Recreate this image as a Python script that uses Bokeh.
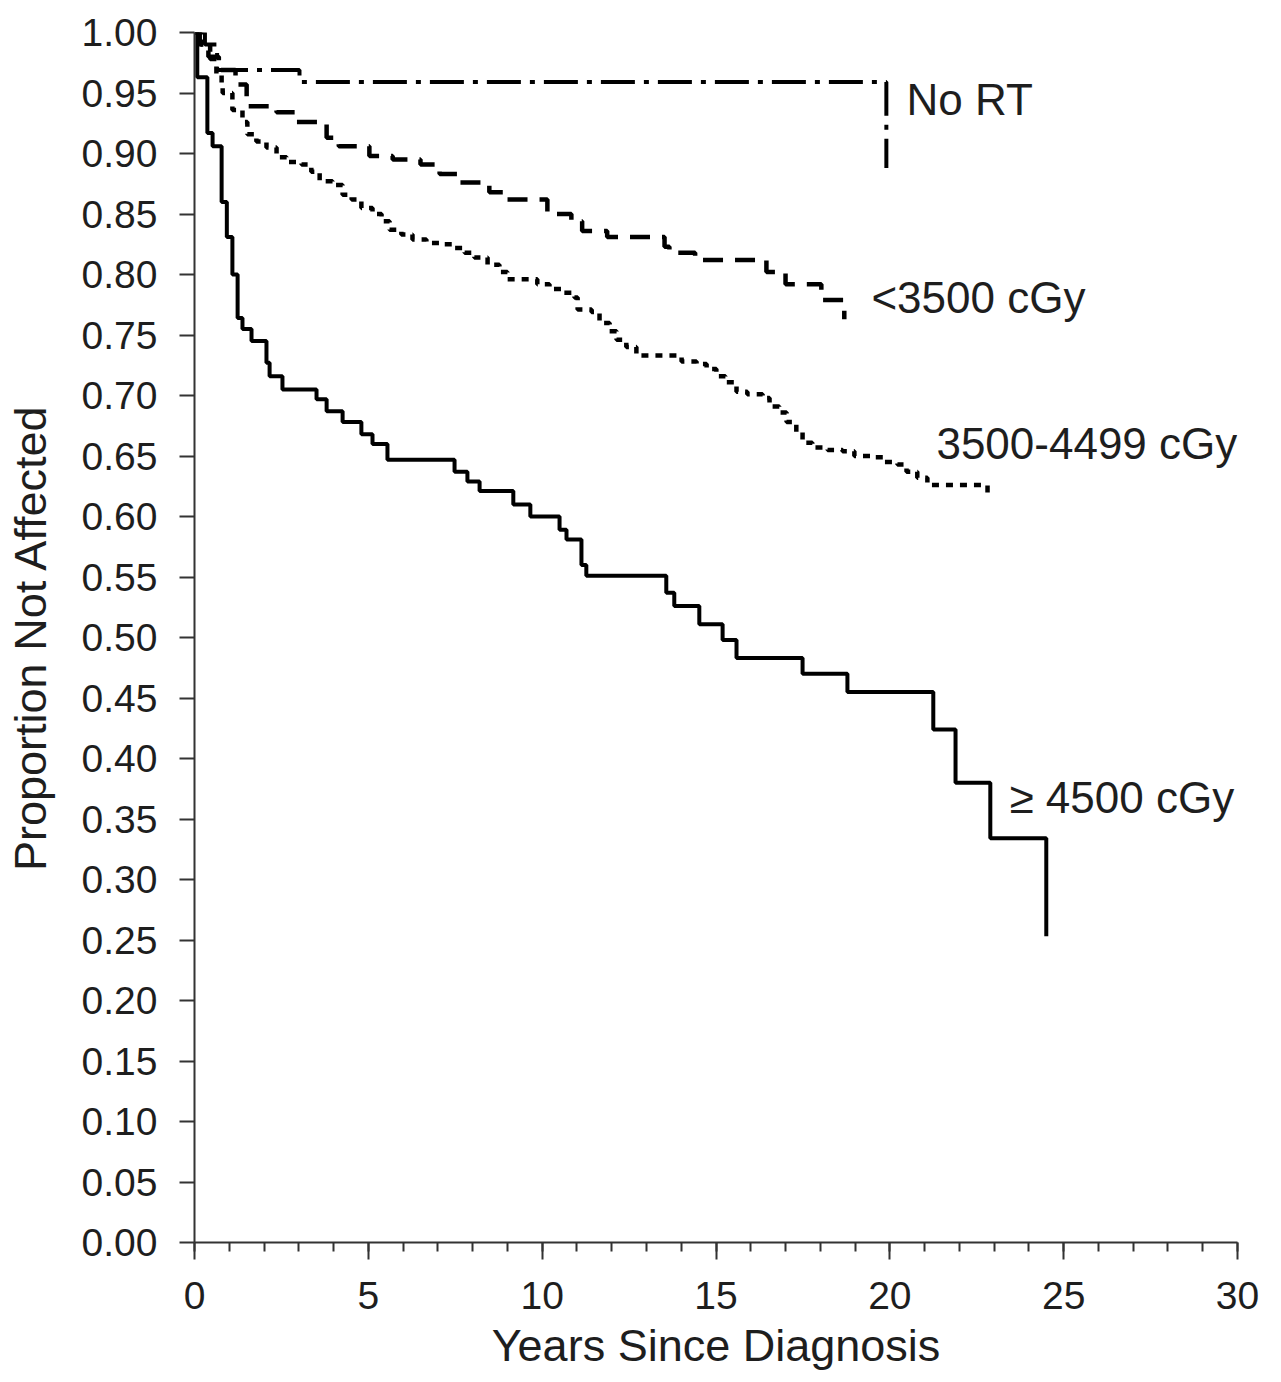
from bokeh.plotting import figure
from bokeh.models import FixedTicker, NumeralTickFormatter, Label, Range1d
from bokeh.embed import file_html
from bokeh.resources import INLINE

# ---------------- data ----------------
x_major_ticks = [0, 5, 10, 15, 20, 25, 30]
x_minor_ticks = [0, 1, 2, 3, 4, 5, 6, 7, 8, 9, 10, 11, 12, 13, 14, 15, 16, 17, 18, 19,
                 20, 21, 22, 23, 24, 25, 26, 27, 28, 29, 30]
y_major_ticks = [0.00, 0.05, 0.10, 0.15, 0.20, 0.25, 0.30, 0.35, 0.40, 0.45, 0.50,
                 0.55, 0.60, 0.65, 0.70, 0.75, 0.80, 0.85, 0.90, 0.95, 1.00]

# No RT (dash-dot)
t_no_rt = [0, 0.3, 0.65, 3.02, 19.90]
s_no_rt = [1.0, 0.99, 0.969, 0.959, 0.888]

# <3500 cGy (dashed)
t_lt3500 = [0, 0.15, 0.4, 0.7, 1.18, 1.50, 2.36, 2.90, 3.80, 4.15, 5.03, 5.70, 6.50, 7.05,
            7.56, 8.48, 8.90, 10.15, 10.84, 11.15, 11.87, 13.52, 13.66, 14.40, 16.45,
            17.00, 18.03, 18.69]
s_lt3500 = [1.0, 0.99, 0.98, 0.969, 0.957, 0.939, 0.934, 0.926, 0.913, 0.906, 0.898, 0.895,
            0.891, 0.883, 0.876, 0.868, 0.862, 0.850, 0.844, 0.836, 0.831, 0.823, 0.818,
            0.812, 0.802, 0.792, 0.779, 0.763]

# 3500-4499 cGy (dotted)
t_mid = [0, 0.2, 0.45, 0.63, 0.78, 0.81, 1.09, 1.38, 1.52, 1.78, 2.07, 2.36, 2.65, 3.08,
         3.36, 3.60, 3.97, 4.26, 4.52, 4.80, 5.12, 5.38, 5.61, 5.95, 6.27, 6.67, 7.13,
         7.48, 7.77, 8.05, 8.43, 8.77, 9.00, 9.86, 10.21, 10.58, 10.93, 11.02, 11.42,
         11.65, 11.94, 12.14, 12.42, 12.71, 14.01, 14.44, 14.73, 15.01, 15.27, 15.59,
         15.90, 16.34, 16.54, 16.82, 17.03, 17.31, 17.49, 17.77, 18.21, 18.64, 18.98,
         19.50, 19.84, 20.22, 20.48, 20.79, 21.08, 22.81]
s_mid = [1.0, 0.99, 0.978, 0.965, 0.955, 0.950, 0.936, 0.926, 0.916, 0.910, 0.905, 0.897,
         0.893, 0.891, 0.885, 0.877, 0.874, 0.866, 0.862, 0.855, 0.850, 0.844, 0.837,
         0.833, 0.829, 0.826, 0.825, 0.822, 0.818, 0.814, 0.808, 0.802, 0.796, 0.792,
         0.788, 0.785, 0.781, 0.771, 0.769, 0.760, 0.753, 0.746, 0.740, 0.733, 0.728,
         0.726, 0.722, 0.716, 0.711, 0.703, 0.701, 0.698, 0.691, 0.686, 0.678, 0.670,
         0.661, 0.657, 0.655, 0.654, 0.650, 0.649, 0.645, 0.643, 0.637, 0.632, 0.626,
         0.618]

# >=4500 cGy (solid)
t_high = [0, 0.08, 0.37, 0.52, 0.78, 0.93, 1.09, 1.24, 1.38, 1.64, 2.07, 2.16, 2.53, 3.51,
          3.80, 4.26, 4.80, 5.12, 5.55, 7.48, 7.85, 8.20, 9.17, 9.66, 10.50, 10.70, 11.13,
          11.27, 13.57, 13.80, 14.52, 15.19, 15.59, 17.49, 18.78, 21.25, 21.89, 22.89, 24.50]
s_high = [1.0, 0.963, 0.917, 0.906, 0.860, 0.831, 0.800, 0.764, 0.755, 0.745, 0.727, 0.716,
          0.705, 0.697, 0.687, 0.678, 0.668, 0.660, 0.647, 0.637, 0.629, 0.621, 0.610,
          0.600, 0.589, 0.581, 0.560, 0.551, 0.537, 0.526, 0.511, 0.498, 0.483, 0.470,
          0.455, 0.424, 0.380, 0.334, 0.253]

group_labels = ["No RT", "<3500 cGy", "3500-4499 cGy", "\u2265 4500 cGy"]

# ---------------- figure ----------------
FONT = "Liberation Sans"
TXT = "#1e1e1e"
AX = "#333333"

p = figure(frame_width=1043, frame_height=1210,
           x_range=Range1d(0, 30), y_range=Range1d(0, 1.0),
           min_border_left=194, min_border_right=36, min_border_top=32, min_border_bottom=131,
           output_backend="svg", toolbar_location=None)

p.outline_line_color = None
p.xgrid.visible = False
p.ygrid.visible = False
p.background_fill_color = "white"
p.border_fill_color = "white"

# x axis
xa = p.xaxis[0]
xa.ticker = FixedTicker(ticks=x_major_ticks, minor_ticks=x_minor_ticks)
xa.major_tick_out = 17
xa.major_tick_in = 0
xa.minor_tick_out = 9
xa.minor_tick_in = 0
xa.axis_line_width = 2
xa.major_tick_line_width = 2
xa.minor_tick_line_width = 2
xa.axis_line_color = AX
xa.major_tick_line_color = AX
xa.minor_tick_line_color = AX
xa.major_label_text_font = FONT
xa.major_label_text_font_size = "39px"
xa.major_label_text_color = TXT
xa.major_label_standoff = 22
xa.axis_label = "Years Since Diagnosis"
xa.axis_label_text_font = FONT
xa.axis_label_text_font_size = "45px"
xa.axis_label_text_font_style = "normal"
xa.axis_label_text_color = TXT
xa.axis_label_standoff = 8

# y axis
ya = p.yaxis[0]
ya.ticker = FixedTicker(ticks=y_major_ticks, minor_ticks=[])
ya.formatter = NumeralTickFormatter(format="0.00")
ya.major_tick_out = 15
ya.major_tick_in = 0
ya.axis_line_width = 2
ya.major_tick_line_width = 2
ya.axis_line_color = AX
ya.major_tick_line_color = AX
ya.major_label_text_font = FONT
ya.major_label_text_font_size = "39px"
ya.major_label_text_color = TXT
ya.major_label_standoff = 22
ya.axis_label = "Proportion Not Affected"
ya.axis_label_text_font = FONT
ya.axis_label_text_font_size = "45px"
ya.axis_label_text_font_style = "normal"
ya.axis_label_text_color = TXT
ya.axis_label_standoff = 23

# curves
p.step(t_no_rt, s_no_rt, mode="after", line_color="black", line_width=4,
       line_dash="34 9 5 9")
p.step(t_lt3500, s_lt3500, mode="after", line_color="black", line_width=4.5,
       line_dash="20 12")
p.step(t_mid, s_mid, mode="after", line_color="black", line_width=4.5,
       line_dash="7 7")
p.step(t_high, s_high, mode="after", line_color="black", line_width=4)

# curve labels
label_pos = [(20.48, 0.945), (19.47, 0.781), (21.34, 0.660), (23.44, 0.368)]
for txt, (lx, ly) in zip(group_labels, label_pos):
    p.add_layout(Label(x=lx, y=ly, text=txt, text_baseline="middle", text_align="left",
                       text_font=FONT, text_font_size="44px", text_color=TXT))

open("out.html", "w").write(file_html(p, INLINE))
